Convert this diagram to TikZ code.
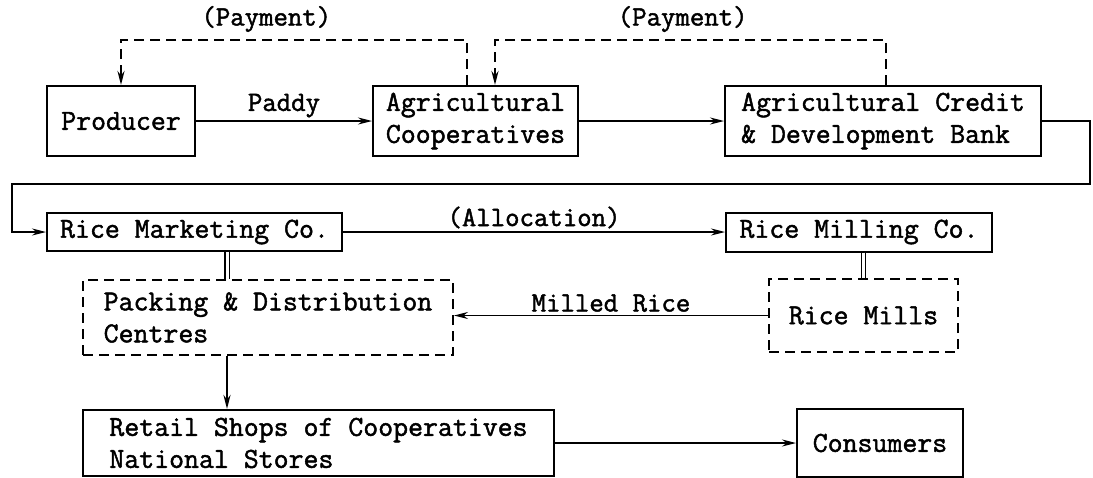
\documentclass[tikz,border=0pt]{standalone}
\usepackage{fontspec}
\newfontfamily\typefont[FakeBold=1.6]{Latin Modern Mono}
\usetikzlibrary{arrows.meta,positioning}

\begin{document}
\begin{tikzpicture}[x=1pt,y=-1pt,
  box/.style={rectangle, draw, line width=2pt, inner sep=4pt, font=\typefont\bfseries\fontsize{29}{32}\selectfont, align=left},
  dbox/.style={box, dashed, dash pattern=on 10pt off 6pt},
  arr/.style={-{Stealth[length=14pt,width=7pt]}, line width=1.3pt},
  pay/.style={arr, line width=2.2pt, dash pattern=on 10pt off 6pt},
  dbl/.style={double, double distance=3pt, line width=1.2pt},
  lbl/.style={font=\typefont\bfseries\fontsize{28}{30}\selectfont, inner sep=3pt}
]
  \useasboundingbox (0,0) rectangle (1093,477);

  \node[box, minimum width=148pt, minimum height=70pt] (prod) at (121,121) {Producer};
  \node[box, minimum width=205pt, minimum height=70pt] (coop) at (475.5,121) {Agricultural\\Cooperatives};
  \node[box, minimum width=316pt, minimum height=70pt] (bank) at (883,121) {Agricultural Credit\\\& Development Bank};
  \node[box, minimum width=295pt, minimum height=38pt] (rmc) at (194.5,232) {Rice Marketing Co.};
  \node[box, minimum width=266pt, minimum height=39pt] (rmill) at (859,232) {Rice Milling Co.};
  \node[dbox, minimum width=370pt, minimum height=75pt] (pack) at (268,317.5) {Packing \& Distribution\\Centres};
  \node[dbox, minimum width=189pt, minimum height=73pt] (mills) at (863.5,315.5) {Rice Mills};
  \node[box, minimum width=471pt, minimum height=66pt] (retail) at (318.5,443) {Retail Shops of Cooperatives\\National Stores};
  \node[box, minimum width=166pt, minimum height=68pt] (cons) at (880,443) {Consumers};

  \coordinate (turnR) at (1090,184);
  \coordinate (turnL) at (12,184);

  \draw[arr] (prod) -- node[lbl, above]{Paddy} (coop);
  \draw[arr] (coop) -- (bank);
  \draw[pay] ([xshift=-8.5pt]coop.north) -- ++(0,-45) -| node[lbl, pos=0.29, above=4pt]{(Payment)} (prod.north);
  \draw[pay] ([xshift=3pt]bank.north) -- ++(0,-45) -| node[lbl, pos=0.26, above=4pt]{(Payment)} ([xshift=19.5pt]coop.north);
  \draw[arr] (bank.east) -| (turnR) -- (turnL) |- (rmc.west);
  \draw[arr] (rmc) -- node[lbl, above]{(Allocation)} (rmill);
  \draw[dbl] ([xshift=32.5pt]rmc.south) -- ([xshift=32.5pt]rmc.south |- pack.north);
  \draw[dbl] (mills.north |- rmill.south) -- (mills.north);
  \draw[arr] (mills.west) -- node[lbl, above]{Milled Rice} (mills.west -| pack.east);
  \draw[arr, line width=2.6pt] ([xshift=-41pt]pack.south) -- ([xshift=-41pt]pack.south |- retail.north);
  \draw[arr] (retail) -- (cons);
\end{tikzpicture}
\end{document}
